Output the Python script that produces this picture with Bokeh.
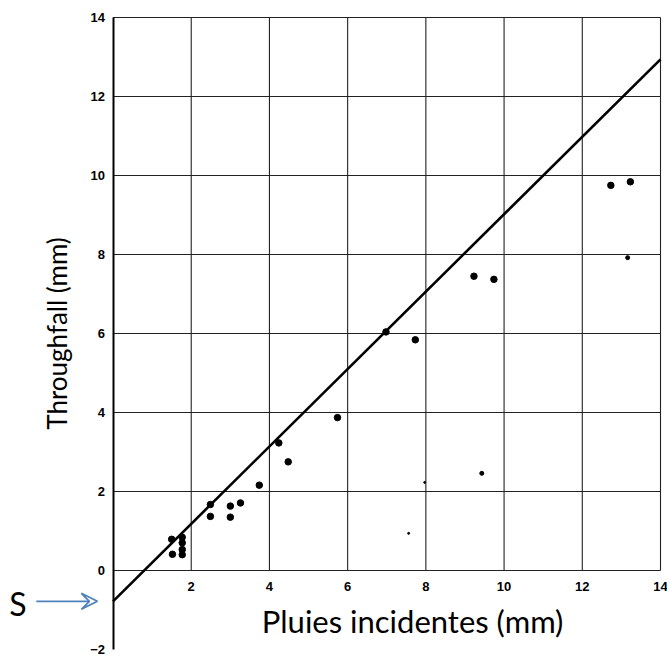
from bokeh.plotting import figure
from bokeh.models import Range1d, LinearAxis, FixedTicker, Arrow, VeeHead
from bokeh.core.properties import value
from bokeh.embed import file_html
from bokeh.resources import INLINE

# Data
rain = [1.50, 1.52, 1.77, 1.77, 1.77, 1.77, 2.49, 2.49, 3.00, 3.00, 3.26, 3.74,
        4.24, 4.48, 5.74, 6.98, 7.73, 9.23, 9.74, 12.73, 13.23]
through = [0.79, 0.41, 0.84, 0.70, 0.53, 0.40, 1.67, 1.37, 1.63, 1.35, 1.71, 2.16,
           3.23, 2.75, 3.87, 6.04, 5.84, 7.45, 7.37, 9.75, 9.84]
small_rain = [9.43, 13.16]
small_through = [2.46, 7.92]
tiny_rain = [7.56, 7.97]
tiny_through = [0.94, 2.23]

intercept = -0.78
slope = 0.98
line_x = [0, 14]

x_ticks = [2, 4, 6, 8, 10, 12, 14]
y_ticks = [-2, 0, 2, 4, 6, 8, 10, 12, 14]
grid_v = [2, 4, 6, 8, 10, 12, 14]
grid_h = [0, 2, 4, 6, 8, 10, 12, 14]

p = figure(width=667, height=661, x_range=Range1d(-2.877, 14.179), y_range=Range1d(-2.304, 14.43),
           output_backend="svg", toolbar_location=None, x_axis_type=None, y_axis_type=None,
           min_border_left=0, min_border_right=0, min_border_top=0, min_border_bottom=0)
p.outline_line_color = None
p.background_fill_color = "white"

ax = LinearAxis(ticker=FixedTicker(ticks=y_ticks), bounds=(-2, 14), fixed_location=0,
                axis_label="Throughfall (mm)")
ax.axis_line_width = 2
ax.axis_line_color = "black"
ax.major_tick_out = 0
ax.major_tick_in = 0
ax.minor_tick_out = 0
ax.minor_tick_in = 0
ax.major_label_standoff = 8
ax.major_label_text_font = "Liberation Sans"
ax.major_label_text_font_style = "bold"
ax.major_label_text_font_size = "13px"
ax.major_label_text_color = "black"
ax.axis_label_text_font = "Lato"
ax.axis_label_text_font_style = "normal"
ax.axis_label_text_font_size = "26px"
ax.axis_label_text_color = "black"
ax.axis_label_standoff = 15
p.add_layout(ax, "left")

# grid
p.segment(x0=grid_v, y0=[0] * len(grid_v), x1=grid_v, y1=[14] * len(grid_v),
          line_color="#222222", line_width=1.1)
p.segment(x0=[0] * len(grid_h), y0=grid_h, x1=[14] * len(grid_h), y1=grid_h,
          line_color="#222222", line_width=1.1)

# x tick labels along y=0
p.text(x=x_ticks, y=[0] * len(x_ticks), text=[str(t) for t in x_ticks], y_offset=16,
       text_align="center", text_baseline="middle", text_font=value("Liberation Sans"),
       text_font_style="bold", text_font_size="13px", text_color="black")

# regression line
p.line(x=line_x, y=[intercept + slope * v for v in line_x], line_color="black", line_width=2.6)

# points
p.scatter(x=rain, y=through, size=6.5, color="black")
p.scatter(x=small_rain, y=small_through, size=4, color="black")
p.scatter(x=tiny_rain, y=tiny_through, size=2, color="black")

# x axis title
p.text(x=[7.66], y=[-1.27], text=["Pluies incidentes (mm)"], text_align="center",
       text_baseline="middle", text_font=value("Lato"), text_font_size="31px", text_color="black")

# S annotation with arrow
p.text(x=[-2.43], y=[-0.84], text=["S"], text_align="center", text_baseline="middle",
       text_font=value("Lato"), text_font_size="32px", text_color="black")
p.add_layout(Arrow(x_start=-1.96, y_start=intercept, x_end=-0.40, y_end=intercept,
                   line_color="#4F81BD", line_width=1.8,
                   end=VeeHead(size=16, line_color="#4F81BD", line_width=1.8, fill_color=None)))

open("out.html", "w").write(file_html(p, INLINE))
